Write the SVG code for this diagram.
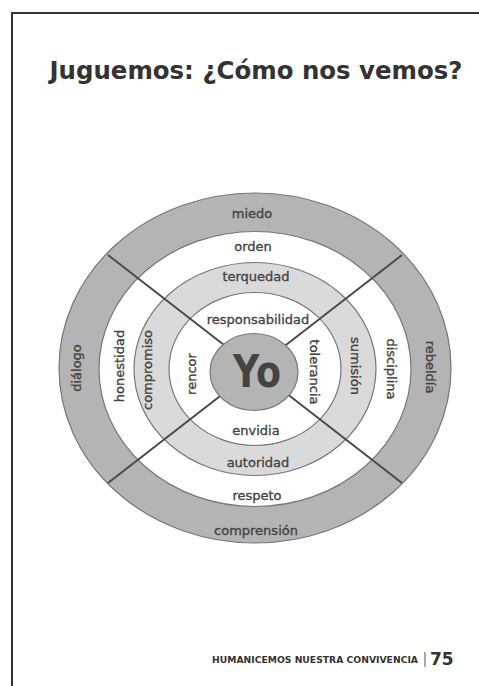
<svg xmlns="http://www.w3.org/2000/svg" width="479" height="686" viewBox="0 0 479 686">
<style>
.lbl{font-family:"DejaVu Sans","Liberation Sans",sans-serif;font-size:13px;fill:#444;stroke:#444;stroke-width:0.35;text-anchor:middle}
.ring{stroke:#777;stroke-width:1.2}
.div{stroke:#4a4a4a;stroke-width:2;fill:none}
</style>
<rect x="0" y="0" width="479" height="686" fill="#fff"/>
<path d="M12 686 V13 H479" fill="none" stroke="#333" stroke-width="2"/>
<text x="256" y="79" font-family="DejaVu Sans, Liberation Sans, sans-serif" font-weight="bold" font-size="24" fill="#333" text-anchor="middle" textLength="413" lengthAdjust="spacingAndGlyphs">Juguemos: ¿Cómo nos vemos?</text>

<g id="rings">
<ellipse class="ring" cx="255" cy="368" rx="196" ry="175" fill="#b4b4b4"/>
<ellipse class="ring" cx="255" cy="369" rx="156" ry="137.5" fill="#fff"/>
<ellipse class="ring" cx="255" cy="369" rx="121" ry="106.5" fill="#dadada"/>
<ellipse class="ring" cx="255" cy="369" rx="86" ry="76.5" fill="#fff"/>
</g>
<g id="connectors">
<line class="div" x1="108" y1="255" x2="255" y2="369"/>
<line class="div" x1="402" y1="255" x2="255" y2="369"/>
<line class="div" x1="108" y1="483" x2="255" y2="369"/>
<line class="div" x1="402" y1="483" x2="255" y2="369"/>
</g>
<g id="yo">
<ellipse class="ring" cx="254" cy="372" rx="44" ry="38.5" fill="#b4b4b4"/>
<text x="257" y="387" font-family="DejaVu Sans, Liberation Sans, sans-serif" font-size="44" font-weight="bold" fill="#444" text-anchor="middle" textLength="48" lengthAdjust="spacingAndGlyphs">Yo</text>
</g>
<g id="top-labels">
<text class="lbl" x="252" y="218">miedo</text>
<text class="lbl" x="253" y="251">orden</text>
<text class="lbl" x="256" y="281">terquedad</text>
<text class="lbl" x="258" y="324">responsabilidad</text>
</g>
<g id="bottom-labels">
<text class="lbl" x="256" y="435">envidia</text>
<text class="lbl" x="258" y="467">autoridad</text>
<text class="lbl" x="257" y="500">respeto</text>
<text class="lbl" x="256" y="535">comprensión</text>
</g>
<g id="left-labels">
<text class="lbl" transform="translate(80.5 368) rotate(-90)">diálogo</text>
<text class="lbl" transform="translate(124 366) rotate(-90)">honestidad</text>
<text class="lbl" transform="translate(152 370) rotate(-90)">compromiso</text>
<text class="lbl" transform="translate(196 374) rotate(-90)">rencor</text>
</g>
<g id="right-labels">
<text class="lbl" transform="translate(310 372) rotate(90)">tolerancia</text>
<text class="lbl" transform="translate(351 366) rotate(90)">sumisión</text>
<text class="lbl" transform="translate(387 369) rotate(90)">disciplina</text>
<text class="lbl" transform="translate(426 367) rotate(90)">rebeldía</text>
</g>
<g id="footer">
<text x="212" y="663" font-family="DejaVu Sans, Liberation Sans, sans-serif" font-size="8" font-weight="bold" fill="#333" textLength="206" lengthAdjust="spacingAndGlyphs">HUMANICEMOS NUESTRA CONVIVENCIA</text>
<line x1="425" y1="652" x2="425" y2="667" stroke="#555" stroke-width="1"/>
<text x="430" y="665" font-family="DejaVu Sans, Liberation Sans, sans-serif" font-size="17" font-weight="bold" fill="#333">75</text>
</g>
</svg>
